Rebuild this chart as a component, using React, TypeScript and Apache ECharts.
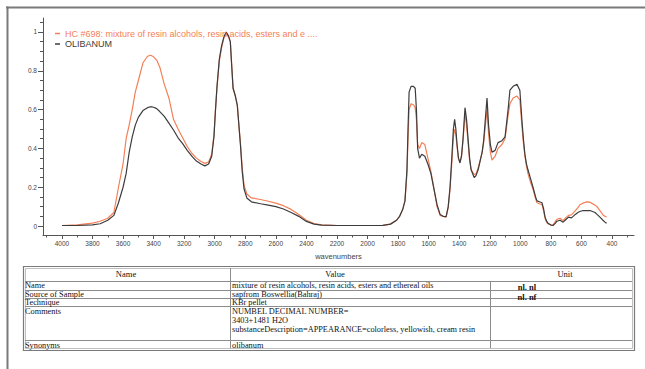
import React, { useEffect, useRef } from "react";
import * as echarts from "echarts";

const wavenumbers = [
  4000, 3900, 3800, 3750, 3700, 3660, 3630, 3600, 3580, 3560, 3540, 3520, 3500, 3470, 3440, 3420, 3400, 3380, 3360, 3330,
  3300, 3270, 3240, 3210, 3180, 3150, 3120, 3090, 3065, 3040, 3020, 3005, 2995, 2985, 2970, 2955, 2940, 2925, 2910, 2898,
  2890, 2880, 2865, 2852, 2842, 2832, 2820, 2808, 2790, 2760, 2700, 2650, 2600, 2550, 2500, 2450, 2400, 2350, 2300, 2200,
  2100, 2000, 1900, 1850, 1810, 1790, 1770, 1755, 1742, 1735, 1728, 1715, 1700, 1688, 1680, 1672, 1660, 1645, 1625, 1605,
  1585, 1565, 1545, 1525, 1505, 1486, 1472, 1460, 1448, 1438, 1430, 1422, 1414, 1405, 1395, 1385, 1375, 1362, 1352, 1342,
  1332, 1322, 1302, 1290, 1276, 1262, 1250, 1240, 1231, 1218, 1208, 1196, 1185, 1165, 1146, 1120, 1100, 1080, 1068, 1047,
  1022, 1003, 990, 980, 970, 960, 950, 935, 917, 900, 891, 875, 858, 848, 838, 828, 819, 800, 786, 770,
  760, 740, 720, 700, 685, 665, 640, 623, 610, 590, 564, 544, 511, 498, 479, 459, 446, 435,
];

const olibanum = [
  0.003, 0.003, 0.006, 0.012, 0.03, 0.055, 0.12, 0.2, 0.27, 0.38, 0.46, 0.52, 0.56, 0.595, 0.61, 0.615, 0.612, 0.605, 0.59, 0.565,
  0.53, 0.495, 0.455, 0.425, 0.39, 0.36, 0.335, 0.32, 0.31, 0.32, 0.36, 0.46, 0.6, 0.72, 0.86, 0.93, 0.975, 1.0, 0.98, 0.95,
  0.84, 0.71, 0.67, 0.62, 0.52, 0.42, 0.28, 0.19, 0.145, 0.125, 0.115, 0.108, 0.1, 0.088, 0.07, 0.05, 0.024, 0.01, 0.005, 0.003,
  0.003, 0.003, 0.004, 0.01, 0.03, 0.05, 0.085, 0.13, 0.29, 0.5, 0.69, 0.72, 0.72, 0.71, 0.6, 0.4, 0.35, 0.37, 0.36, 0.32,
  0.27, 0.19, 0.11, 0.06, 0.05, 0.048, 0.1, 0.2, 0.36, 0.5, 0.55, 0.5, 0.42, 0.35, 0.325, 0.36, 0.45, 0.61, 0.55, 0.45,
  0.35, 0.29, 0.25, 0.26, 0.29, 0.34, 0.38, 0.44, 0.53, 0.66, 0.52, 0.42, 0.38, 0.39, 0.43, 0.44, 0.46, 0.6, 0.7, 0.72,
  0.73, 0.7, 0.55, 0.45, 0.37, 0.32, 0.29, 0.25, 0.2, 0.15, 0.13, 0.125, 0.12, 0.09, 0.046, 0.025, 0.015, 0.005, 0.003, 0.015,
  0.025, 0.03, 0.02, 0.035, 0.046, 0.042, 0.06, 0.07, 0.075, 0.08, 0.08, 0.08, 0.07, 0.06, 0.046, 0.03, 0.02, 0.015,
];

const hc698 = [
  0.003, 0.006, 0.015, 0.025, 0.04, 0.07, 0.2, 0.32, 0.45, 0.52, 0.6, 0.69, 0.75, 0.84, 0.875, 0.88, 0.872, 0.855, 0.82, 0.73,
  0.66, 0.55, 0.5, 0.455, 0.41, 0.375, 0.35, 0.333, 0.323, 0.33, 0.37, 0.47, 0.6, 0.72, 0.85, 0.92, 0.97, 0.99, 0.975, 0.95,
  0.84, 0.71, 0.67, 0.62, 0.52, 0.43, 0.3, 0.21, 0.165, 0.145, 0.137, 0.128, 0.118, 0.105, 0.086, 0.06, 0.03, 0.013, 0.006, 0.003,
  0.003, 0.003, 0.004, 0.01, 0.03, 0.05, 0.085, 0.13, 0.27, 0.45, 0.6, 0.63, 0.625, 0.61, 0.55, 0.42, 0.4, 0.43, 0.42, 0.35,
  0.28, 0.19, 0.1, 0.055, 0.05, 0.046, 0.095, 0.19, 0.33, 0.46, 0.5, 0.47, 0.41, 0.35, 0.33, 0.36, 0.44, 0.58, 0.52, 0.43,
  0.34, 0.29, 0.265, 0.27, 0.3, 0.34, 0.38, 0.43, 0.5, 0.6, 0.48, 0.38, 0.34, 0.36, 0.4, 0.42, 0.45, 0.57, 0.63, 0.66,
  0.67, 0.65, 0.52, 0.43, 0.36, 0.31, 0.27, 0.23, 0.19, 0.14, 0.12, 0.115, 0.11, 0.08, 0.04, 0.02, 0.012, 0.006, 0.005, 0.025,
  0.035, 0.04, 0.028, 0.045, 0.055, 0.058, 0.08, 0.095, 0.11, 0.118, 0.125, 0.123, 0.108, 0.1, 0.08, 0.057, 0.05, 0.047,
];

const seriesNames = ["HC #698: mixture of resin alcohols, resin acids, esters and e ....", "OLIBANUM"];
const seriesColors = ["#f47f56", "#3c3c3c"];

const xLabelValues = [4000, 3800, 3600, 3400, 3200, 3000, 2800, 2600, 2400, 2200, 2000, 1800, 1600, 1400, 1200, 1000, 800, 600, 400];
const xMinorValues = [4100, 3900, 3700, 3500, 3300, 3100, 2900, 2700, 2500, 2300, 2100, 1900, 1700, 1500, 1300, 1100, 900, 700, 500, 300];
const yLabelValues = [0, 0.2, 0.4, 0.6, 0.8, 1];
const yMinorValues = [0.05, 0.1, 0.15, 0.25, 0.3, 0.35, 0.45, 0.5, 0.55, 0.65, 0.7, 0.75, 0.85, 0.9, 0.95, 1.05];
const xAxisTitle = "wavenumbers";

const tableHeader = ["Name", "Value", "Unit"];
const tableNames = ["Name", "Source of Sample", "Technique", "Comments", "Synonyms"];
const tableValues = [
  ["mixture of resin alcohols, resin acids, esters and ethereal oils"],
  ["sapfrom Boswellia(Bahraj)"],
  ["KBr pellet"],
  ["NUMBEL DECIMAL NUMBER=", "3403+1481 H2O", "substanceDescription=APPEARANCE=colorless, yellowish, cream resin"],
  ["olibanum"],
];
const unitText = "nl. nl\nnl. nf";

export default function App() {
  const ref = useRef<HTMLDivElement>(null);
  useEffect(() => {
    if (!ref.current) return;
    const chart = echarts.init(ref.current, null, { renderer: "svg" });

    const serif = '"Liberation Serif", "DejaVu Serif", serif';
    const lineColor = "#8c8c8c";
    const g: any[] = [];
    // outer frame
    g.push({ type: "line", silent: true, shape: { x1: 6, y1: 7.5, x2: 645, y2: 7.5 }, style: { stroke: "#7a7a7a", lineWidth: 2 } });
    g.push({ type: "line", silent: true, shape: { x1: 7.5, y1: 6.5, x2: 7.5, y2: 369 }, style: { stroke: "#7a7a7a", lineWidth: 2 } });

    // table geometry
    const tL = 23, tR = 634, col1 = 230, col2 = 490;
    const rowB = [266, 281, 290, 298, 306, 340, 350];
    g.push({ type: "rect", silent: true, shape: { x: tL + 0.5, y: rowB[0] + 0.5, width: tR - tL, height: rowB[6] - rowB[0] }, style: { fill: "none", stroke: "#7a7a7a", lineWidth: 1.2 } });
    g.push({ type: "rect", silent: true, shape: { x: tL + 2.5, y: rowB[0] + 2.5, width: tR - tL - 4, height: rowB[6] - rowB[0] - 4 }, style: { fill: "none", stroke: "#b0b0b0", lineWidth: 0.8 } });
    for (let i = 1; i < rowB.length - 1; i++) {
      g.push({ type: "line", silent: true, shape: { x1: tL + 2, y1: rowB[i] + 0.5, x2: tR - 2, y2: rowB[i] + 0.5 }, style: { stroke: lineColor, lineWidth: 1 } });
    }
    g.push({ type: "line", silent: true, shape: { x1: col1 + 0.5, y1: rowB[0] + 2, x2: col1 + 0.5, y2: rowB[6] - 2 }, style: { stroke: lineColor, lineWidth: 1 } });
    g.push({ type: "line", silent: true, shape: { x1: col2 + 0.5, y1: rowB[1], x2: col2 + 0.5, y2: rowB[6] - 2 }, style: { stroke: lineColor, lineWidth: 1 } });

    const txt = (text: string, x: number, y: number, align: string, size = 8.3, weight = "normal") => ({
      type: "text",
      silent: true,
      x,
      y,
      style: { text, fill: "#111", font: `${weight} ${size}px ${serif}`, textAlign: align, textVerticalAlign: "middle" },
    });
    g.push(txt(tableHeader[0], 126, 273.5, "center", 8.5));
    g.push(txt(tableHeader[1], 335, 273.5, "center", 8.5));
    g.push(txt(tableHeader[2], 565, 273.5, "center", 8.5));
    tableNames.forEach((n, i) => {
      const top = rowB[i + 1];
      const bottom = rowB[i + 2];
      const multi = tableValues[i].length > 1;
      const y0 = multi ? top + 5 : (top + bottom) / 2;
      g.push(txt(n, 25, y0, "left"));
      tableValues[i].forEach((v, j) => g.push(txt(v, 232, y0 + j * 9, "left")));
    });
    g.push({
      type: "text",
      silent: true,
      x: 527,
      y: 292,
      style: { text: unitText, fill: "#111", font: `bold 8.5px ${serif}`, lineHeight: 10, textAlign: "center", textVerticalAlign: "middle" },
    });

    const sans = '"Liberation Sans", Arial, sans-serif';
    const axisColor = "#555";

    const option: any = {
      animation: false,
      backgroundColor: "#ffffff",
      grid: { left: 43, right: 11, top: 18, height: 217 },
      legend: {
        orient: "vertical",
        left: 55,
        top: 29,
        padding: 0,
        itemGap: 1.5,
        itemWidth: 5,
        itemHeight: 1.5,
        icon: "rect",
        textStyle: { fontSize: 9, fontFamily: sans },
        data: [
          { name: seriesNames[0], textStyle: { color: seriesColors[0] } },
          { name: seriesNames[1], textStyle: { color: seriesColors[1] } },
        ],
      },
      xAxis: [
        {
          type: "value",
          inverse: true,
          min: 256,
          max: 4124,
          position: "bottom",
          axisLine: { show: true, onZero: false, lineStyle: { color: axisColor, width: 1 } },
          axisTick: { show: true, length: 4, customValues: xLabelValues, lineStyle: { color: axisColor } },
          axisLabel: { customValues: xLabelValues, fontSize: 6.5, fontFamily: sans, color: "#444", margin: 5, formatter: (v: number) => String(v) },
          splitLine: { show: false },
          name: xAxisTitle,
          nameLocation: "middle",
          nameGap: 17,
          nameTextStyle: { fontSize: 7.5, fontFamily: sans, color: "#444" },
        },
        {
          type: "value",
          inverse: true,
          min: 256,
          max: 4124,
          position: "bottom",
          axisLine: { show: false, onZero: false },
          axisTick: { show: true, length: 2.5, customValues: xMinorValues, lineStyle: { color: axisColor } },
          axisLabel: { show: false },
          splitLine: { show: false },
        },
      ],
      yAxis: [
        {
          type: "value",
          min: -0.046,
          max: 1.072,
          position: "left",
          axisLine: { show: true, onZero: false, lineStyle: { color: axisColor, width: 1 } },
          axisTick: { show: true, length: 5, customValues: yLabelValues, lineStyle: { color: axisColor } },
          axisLabel: { customValues: yLabelValues, fontSize: 6.5, fontFamily: sans, color: "#444", margin: 6, formatter: (v: number) => String(v) },
          splitLine: { show: false },
        },
        {
          type: "value",
          min: -0.046,
          max: 1.072,
          position: "left",
          axisLine: { show: false, onZero: false },
          axisTick: { show: true, length: 3, customValues: yMinorValues, lineStyle: { color: axisColor } },
          axisLabel: { show: false },
          splitLine: { show: false },
        },
      ],
      series: [
        {
          name: seriesNames[0],
          type: "line",
          xAxisIndex: 0,
          yAxisIndex: 0,
          showSymbol: false,
          color: seriesColors[0],
          lineStyle: { color: seriesColors[0], width: 1.2 },
          data: wavenumbers.map((w, i) => [w, hc698[i]]),
        },
        {
          name: seriesNames[1],
          type: "line",
          xAxisIndex: 0,
          yAxisIndex: 0,
          showSymbol: false,
          color: seriesColors[1],
          lineStyle: { color: seriesColors[1], width: 1.2 },
          data: wavenumbers.map((w, i) => [w, olibanum[i]]),
        },
      ],
      graphic: { elements: g },
    };
    chart.setOption(option);
    return () => chart.dispose();
  }, []);
  return <div ref={ref} style={{ position: "absolute", left: 0, top: 0, width: 645, height: 369 }} />;
}
